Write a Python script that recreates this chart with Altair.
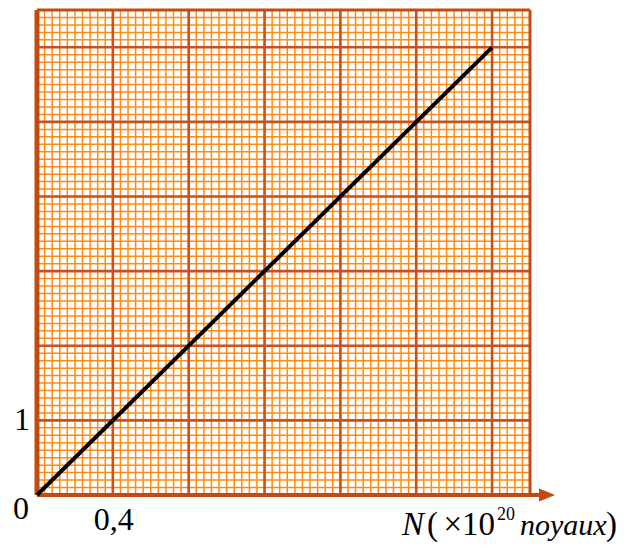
import altair as alt
import pandas as pd

# grid (graph paper) positions in data units
x_minor = [round(i * 0.04, 2) for i in range(66)]   # 0 .. 2.6
y_minor = [round(i * 0.1, 1) for i in range(66)]    # 0 .. 6.5
x_major = [0.4, 0.8, 1.2, 1.6, 2.0, 2.4]
y_major = [1, 2, 3, 4, 5, 6]

# the straight line
line_x = [0, 2.4]
line_y = [0, 6]

X_MAX = 2.6
Y_MAX = 6.5
ARROW_END = 2.65

MINOR = "#FF8C14"
MAJOR = "#C9521C"
AXIS = "#C44A10"
FONT = "Liberation Serif"

xs = alt.Scale(domain=[0, X_MAX], nice=False, zero=False)
ys = alt.Scale(domain=[0, Y_MAX], nice=False, zero=False)


def X(f="x"):
    return alt.X(f + ":Q", scale=xs, axis=None)


def Y(f="y"):
    return alt.Y(f + ":Q", scale=ys, axis=None)


vmin = alt.Chart(pd.DataFrame({"x": x_minor})).mark_rule(color=MINOR, strokeWidth=1.5).encode(x=X())
hmin = alt.Chart(pd.DataFrame({"y": y_minor})).mark_rule(color=MINOR, strokeWidth=1.5).encode(y=Y())
vmaj = alt.Chart(pd.DataFrame({"x": x_major})).mark_rule(color=MAJOR, strokeWidth=2.6).encode(x=X())
hmaj = alt.Chart(pd.DataFrame({"y": y_major})).mark_rule(color=MAJOR, strokeWidth=2.6).encode(y=Y())

border_v = alt.Chart(pd.DataFrame({"x": [X_MAX]})).mark_rule(color=AXIS, strokeWidth=3).encode(x=X())
border_h = alt.Chart(pd.DataFrame({"y": [Y_MAX]})).mark_rule(color=AXIS, strokeWidth=3).encode(y=Y())
axis_y = alt.Chart(pd.DataFrame({"x": [0]})).mark_rule(color=AXIS, strokeWidth=5).encode(x=X())
axis_x = alt.Chart(pd.DataFrame({"x": [0], "x2": [ARROW_END], "y": [0]})).mark_rule(
    color=AXIS, strokeWidth=4).encode(x=X(), x2="x2:Q", y=Y())
arrow = alt.Chart(pd.DataFrame({"x": [2.69], "y": [0]})).mark_point(
    shape="M-1,-0.8L1,0L-1,0.8Z", size=256, filled=True, color=AXIS, opacity=1).encode(x=X(), y=Y())

line = alt.Chart(pd.DataFrame({"x": line_x, "y": line_y})).mark_line(
    color="black", strokeWidth=4).encode(x=X(), y=Y())

def label(txt, x, y, dx, dy, size=32, align="center", baseline="middle", style="normal"):
    return alt.Chart(pd.DataFrame({"x": [x], "y": [y], "t": [txt]})).mark_text(
        font=FONT, fontSize=size, align=align, baseline=baseline, fontStyle=style,
        dx=dx, dy=dy, color="black").encode(x=X(), y=Y(), text="t:N")

texts = [
    label("0", 0, 0, -16, 14),
    label("1", 0, 1, -15, 0),
    label("0,4", 0.4, 0, 1, 25),
    label("N", X_MAX, 0, -128, 40, size=33, align="left", baseline="alphabetic", style="italic"),
    label("(", X_MAX, 0, -103, 40, size=33, align="left", baseline="alphabetic"),
    label("×10", X_MAX, 0, -35, 40, size=33, align="right", baseline="alphabetic"),
    label("20", X_MAX, 0, -33, 25, size=18, align="left", baseline="alphabetic"),
    label("noyaux", X_MAX, 0, -10, 40, size=30, align="left", baseline="alphabetic", style="italic"),
    label(")", X_MAX, 0, 87, 40, size=33, align="right", baseline="alphabetic"),
]

chart = alt.layer(vmin, hmin, vmaj, hmaj, border_v, border_h, axis_y, axis_x, arrow, line, *texts).properties(
    width=493, height=485,
    autosize=alt.AutoSizeParams(type="none"),
    padding={"left": 29, "top": 2, "right": 87, "bottom": 47},
    background="white",
).configure_view(stroke=None)

chart.save("out.html", embed_options={"renderer": "svg", "actions": False})
